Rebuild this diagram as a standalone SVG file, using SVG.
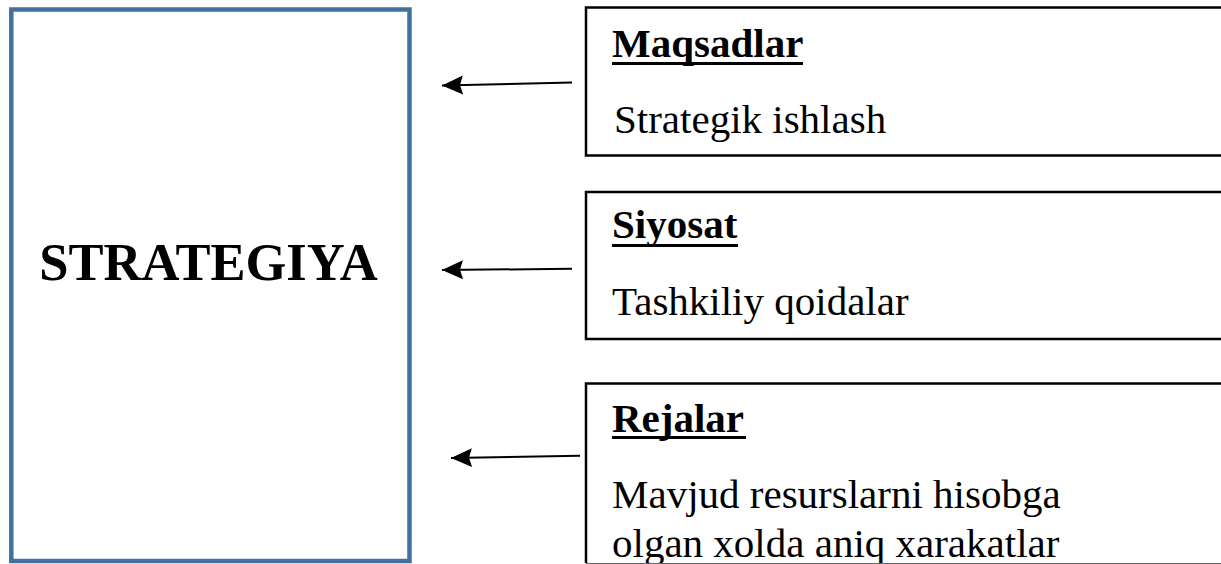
<svg xmlns="http://www.w3.org/2000/svg" width="1221" height="564" viewBox="0 0 1221 564">
<defs>
<style>
.main{fill:#fff;stroke:#41719C;stroke-width:4.5}
.box{fill:#fff;stroke:#000;stroke-width:2.5}
.title{font-family:"Liberation Serif","Times New Roman",serif;font-weight:bold;font-size:52.5px;fill:#000}
.head{font-family:"Liberation Serif","Times New Roman",serif;font-weight:bold;font-size:41px;fill:#000}
.body{font-family:"Liberation Serif","Times New Roman",serif;font-size:41px;fill:#000}
.ul{stroke:#000;stroke-width:3.2}
.conn{stroke:#000;stroke-width:2;fill:none}
</style>
<marker id="arr" markerWidth="22" markerHeight="20" refX="21" refY="10" orient="auto" markerUnits="userSpaceOnUse">
<path d="M0,0.5 L21,10 L0,19.5 L3,10 Z" fill="#000"/>
</marker>
<clipPath id="c3"><rect x="0" y="0" width="1221" height="563"/></clipPath>
</defs>
<rect width="1221" height="564" fill="#fff"/>
<g id="strategiya">
<rect class="main" x="11.3" y="9.5" width="398.2" height="551.5"/>
<text class="title" x="208.5" y="280" text-anchor="middle">STRATEGIYA</text>
</g>
<g id="maqsadlar">
<rect class="box" x="586" y="7.5" width="650" height="148"/>
<text class="head" x="612" y="57">Maqsadlar</text>
<line class="ul" x1="612" y1="63.5" x2="803" y2="63.5"/>
<text class="body" x="614" y="133">Strategik ishlash</text>
</g>
<g id="siyosat">
<rect class="box" x="586" y="192" width="650" height="147"/>
<text class="head" x="612" y="238">Siyosat</text>
<line class="ul" x1="612" y1="245.5" x2="738" y2="245.5"/>
<text class="body" x="612" y="315">Tashkiliy qoidalar</text>
</g>
<g id="rejalar" clip-path="url(#c3)">
<rect class="box" x="586" y="383.5" width="650" height="190"/>
<text class="head" x="612" y="432">Rejalar</text>
<line class="ul" x1="612" y1="437.5" x2="746" y2="437.5"/>
<text class="body" x="612" y="508">Mavjud resurslarni hisobga</text>
<text class="body" x="612" y="557">olgan xolda aniq xarakatlar</text>
</g>
<line x1="586" y1="563.5" x2="1221" y2="563.5" stroke="#666" stroke-width="1"/>
<g id="connectors">
<line class="conn" x1="572" y1="82.5" x2="442" y2="85.5" marker-end="url(#arr)"/>
<line class="conn" x1="572" y1="268.8" x2="442" y2="270" marker-end="url(#arr)"/>
<line class="conn" x1="580" y1="455.8" x2="451" y2="458" marker-end="url(#arr)"/>
</g>
</svg>
